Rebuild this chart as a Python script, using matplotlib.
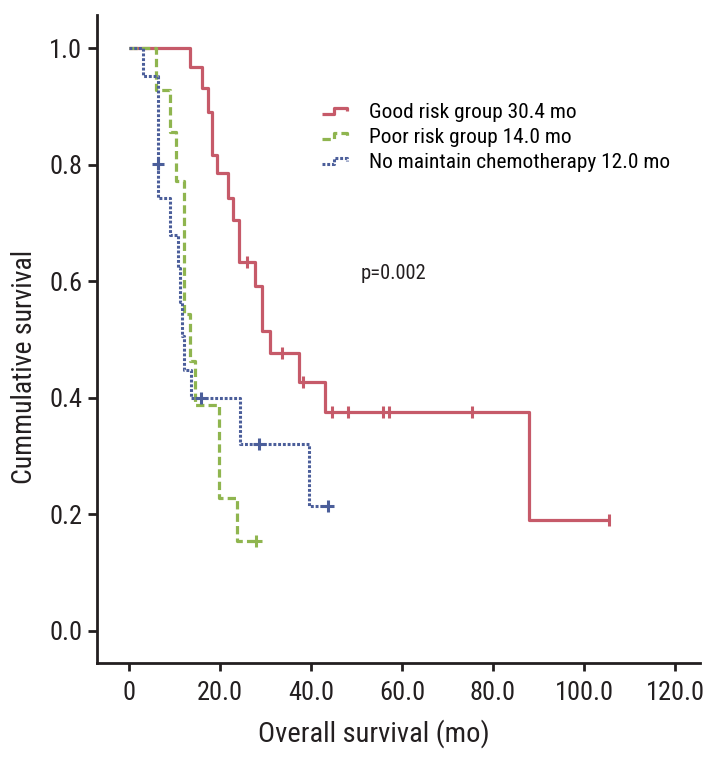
import numpy as np
import matplotlib

matplotlib.use("Agg")
import matplotlib.pyplot as plt
from matplotlib import font_manager
from matplotlib.legend_handler import HandlerLine2D
from matplotlib.lines import Line2D

# the reference uses a condensed sans; take a narrow face if one is installed
installed = {f.name for f in font_manager.fontManager.ttflist}
NARROW = [n for n in ("Roboto Condensed", "Liberation Sans Narrow", "Open Sans Condensed") if n in installed]
plt.rcParams["font.family"] = NARROW + ["Liberation Sans", "DejaVu Sans"]
# text sizes are tuned so widths match; a regular-width face needs smaller sizes
SCALE = 1.0 if NARROW else 0.86

# survival curves (months, cumulative survival)
good_t = [0, 13.4, 16.0, 17.4, 18.2, 19.3, 21.7, 22.9, 24.2, 27.8, 29.3, 31.0, 37.4, 43.1, 88.0, 105.4]
good_s = [1.0, 0.967, 0.931, 0.890, 0.817, 0.785, 0.743, 0.706, 0.633, 0.592, 0.514, 0.477, 0.428, 0.376, 0.191, 0.191]
good_cens_t = [25.9, 33.6, 38.2, 44.7, 48.2, 55.9, 57.1, 75.3, 105.4]
good_cens_s = [0.633, 0.477, 0.428, 0.376, 0.376, 0.376, 0.376, 0.376, 0.191]

poor_t = [0, 5.9, 9.0, 10.4, 12.1, 13.4, 14.6, 19.8, 23.7, 28.0]
poor_s = [1.0, 0.928, 0.856, 0.772, 0.544, 0.463, 0.388, 0.228, 0.155, 0.155]
poor_cens_t = [28.0]
poor_cens_s = [0.155]

nomc_t = [0, 3.0, 6.4, 6.5, 9.1, 10.9, 11.3, 11.7, 12.2, 13.7, 24.4, 39.6, 43.8]
nomc_s = [1.0, 0.952, 0.802, 0.743, 0.680, 0.622, 0.564, 0.506, 0.448, 0.399, 0.320, 0.214, 0.214]
nomc_cens_t = [6.45, 15.8, 28.6, 43.8]
nomc_cens_s = [0.802, 0.399, 0.320, 0.214]

labels = [
    "Good risk group 30.4 mo",
    "Poor risk group 14.0 mo",
    "No maintain chemotherapy 12.0 mo",
]
x_ticks = [0, 20, 40, 60, 80, 100, 120]
x_tick_labels = ["0", "20.0", "40.0", "60.0", "80.0", "100.0", "120.0"]
y_ticks = [0.0, 0.2, 0.4, 0.6, 0.8, 1.0]
y_tick_labels = ["0.0", "0.2", "0.4", "0.6", "0.8", "1.0"]

RED = "#c65a69"
GREEN = "#8fb54f"
BLUE = "#4b5e9a"
INK = "#231f20"


class StepHandler(HandlerLine2D):
    """Legend handle drawn as a small step, like the SPSS output."""

    def create_artists(self, legend, orig_handle, xdescent, ydescent, width, height, fontsize, trans):
        xs = np.array([0.0, 0.5, 0.5, 1.0, 1.0]) * width - xdescent
        ys = np.array([0.3, 0.3, 0.7, 0.7, 0.45]) * height - ydescent
        line = Line2D(xs, ys)
        self.update_prop(line, orig_handle, legend)
        line.set_drawstyle("default")
        line.set_marker("None")
        line.set_transform(trans)
        return [line]


fig = plt.figure(figsize=(7.16, 7.58), dpi=100)
ax = fig.add_axes([0.1355, 0.1253, 0.8422, 0.855])

styles = [
    dict(color=RED, lw=2.3, linestyle="-"),
    dict(color=GREEN, lw=2.3, linestyle=(0, (2.6, 1.3))),
    dict(color=BLUE, lw=2.2, linestyle=(0, (0.95, 0.6))),
]
curves = [(good_t, good_s), (poor_t, poor_s), (nomc_t, nomc_s)]
cens = [(good_cens_t, good_cens_s, "|"), (poor_cens_t, poor_cens_s, "+"), (nomc_cens_t, nomc_cens_s, "+")]

handles = []
for (t, s), st, lab in zip(curves, styles, labels):
    (h,) = ax.step(t, s, where="post", label=lab, solid_capstyle="butt", dash_capstyle="butt", **st)
    handles.append(h)
for (ct, cs, mk), st in zip(cens, styles):
    ax.plot(ct, cs, linestyle="none", marker=mk, markersize=8, markeredgewidth=2.2, color=st["color"])

ax.set_xlim(-7.0, 125.5)
ax.set_ylim(-0.055, 1.057)
ax.set_xticks(x_ticks)
ax.set_xticklabels(x_tick_labels)
ax.set_yticks(y_ticks)
ax.set_yticklabels(y_tick_labels)

for side in ("top", "right"):
    ax.spines[side].set_visible(False)
for side in ("left", "bottom"):
    ax.spines[side].set_linewidth(2.0)
    ax.spines[side].set_color(INK)
ax.tick_params(axis="both", direction="out", width=2.0, color=INK, labelcolor=INK)
ax.tick_params(axis="y", length=6.5, pad=4, labelsize=19 * SCALE)
ax.tick_params(axis="x", length=6, pad=7, labelsize=19 * SCALE)

ax.set_xlabel("Overall survival (mo)", fontsize=20.5 * SCALE, color=INK)
ax.set_ylabel("Cummulative survival", fontsize=20 * SCALE, color=INK)
ax.xaxis.set_label_coords(0.459, -0.087)
ax.yaxis.set_label_coords(-0.098, 0.457)

ax.text(51.0, 0.614, "p=0.002", fontsize=14.8 * SCALE, va="center", ha="left", color=INK)

ax.legend(
    handles=handles,
    handler_map={Line2D: StepHandler()},
    loc="upper left",
    bbox_to_anchor=(0.373, 0.864),
    frameon=False,
    fontsize=15.4 * SCALE,
    handlelength=1.15 / SCALE,
    handletextpad=1.05 / SCALE,
    labelspacing=0.28,
    borderpad=0,
    borderaxespad=0,
)

fig.savefig("out.png", dpi=100, facecolor="white")
plt.close(fig)
